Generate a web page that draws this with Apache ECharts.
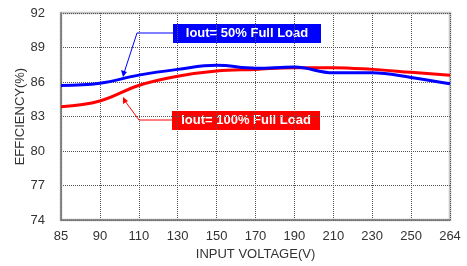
<!DOCTYPE html>
<html>
<head>
<meta charset="utf-8">
<script src="https://cdn.jsdelivr.net/npm/echarts@6/dist/echarts.min.js"></script>
<style>
  html, body { margin: 0; padding: 0; background: #fff; }
  #chart { width: 467px; height: 266px; }
</style>
</head>
<body>
<div id="chart"></div>
<script>
// 输入电压类别
const voltages = ['85', '90', '110', '130', '150', '170', '190', '210', '230', '250', '264'];
// 效率数据
const eff50 = [85.7, 85.9, 86.6, 87.1, 87.45, 87.2, 87.3, 86.8, 86.8, 86.4, 85.85];
const eff100 = [83.85, 84.35, 85.7, 86.5, 86.95, 87.1, 87.25, 87.25, 87.1, 86.85, 86.6];
const yMin = 74, yMax = 92, yStep = 3;

let myChart = echarts.init(document.getElementById('chart'));

const textFont = 'Liberation Sans, Arial, sans-serif';

let option = {
    backgroundColor: '#fff',
    animation: false,
    grid: {
        left: 61,
        right: 17,
        top: 13,
        bottom: 41,
        show: true,
        borderColor: '#c4c4c4',
        borderWidth: 2.5
    },
    xAxis: {
        type: 'category',
        data: voltages,
        boundaryGap: false,
        name: 'INPUT VOLTAGE(V)',
        nameLocation: 'middle',
        nameGap: 27,
        nameTextStyle: { color: '#333', fontSize: 13, fontFamily: textFont },
        axisLine: { lineStyle: { color: '#777', width: 1.5 } },
        axisTick: { show: false },
        axisLabel: { color: '#333', fontSize: 13, fontFamily: textFont, margin: 10, interval: 0 },
        splitLine: { show: true, lineStyle: { color: '#555', type: 'dotted', width: 1 } }
    },
    yAxis: {
        type: 'value',
        min: yMin,
        max: yMax,
        interval: yStep,
        name: 'EFFICIENCY(%)',
        nameLocation: 'middle',
        nameGap: 34,
        nameMoveOverlap: false,
        nameTextStyle: { color: '#333', fontSize: 13, fontFamily: textFont },
        axisLine: { show: true, lineStyle: { color: '#777', width: 1.5 } },
        axisTick: { show: false },
        axisLabel: { color: '#333', fontSize: 13, fontFamily: textFont, margin: 16 },
        splitLine: { show: true, lineStyle: { color: '#555', type: 'dotted', width: 1 } }
    },
    series: [
        {
            name: 'Iout= 50% Full Load',
            type: 'line',
            data: eff50,
            smooth: 0.4,
            symbol: 'none',
            lineStyle: { color: '#0000ff', width: 3 },
            z: 3
        },
        {
            name: 'Iout= 100% Full Load',
            type: 'line',
            data: eff100,
            smooth: 0.4,
            symbol: 'none',
            lineStyle: { color: '#ff0000', width: 3 },
            z: 2
        }
    ],
    // 标注框和引线
    graphic: [
        {
            type: 'polyline',
            shape: { points: [[173, 33], [137, 33], [124, 73]] },
            style: { stroke: '#0000ff', lineWidth: 1, fill: null }
        },
        {
            type: 'polygon',
            shape: { points: [[123, 77], [121, 70], [127, 72]] },
            style: { fill: '#0000ff' }
        },
        {
            type: 'rect',
            shape: { x: 173, y: 24, width: 148, height: 19 },
            style: { fill: '#0000ff' }
        },
        {
            type: 'text',
            x: 247, y: 33.5,
            style: {
                text: 'Iout= 50% Full Load', fill: '#fff', fontSize: 13, fontWeight: 'bold',
                fontFamily: textFont, align: 'center', verticalAlign: 'middle'
            }
        },
        {
            type: 'polyline',
            shape: { points: [[172, 120], [139, 120], [125, 101]] },
            style: { stroke: '#ff0000', lineWidth: 1, fill: null }
        },
        {
            type: 'polygon',
            shape: { points: [[123, 97], [123, 104], [128, 101]] },
            style: { fill: '#ff0000' }
        },
        {
            type: 'rect',
            shape: { x: 172, y: 111, width: 148, height: 19 },
            style: { fill: '#ff0000' }
        },
        {
            type: 'text',
            x: 246, y: 120.5,
            style: {
                text: 'Iout= 100% Full Load', fill: '#fff', fontSize: 13, fontWeight: 'bold',
                fontFamily: textFont, align: 'center', verticalAlign: 'middle'
            }
        }
    ]
};

myChart.setOption(option, true);
</script>
</body>
</html>
